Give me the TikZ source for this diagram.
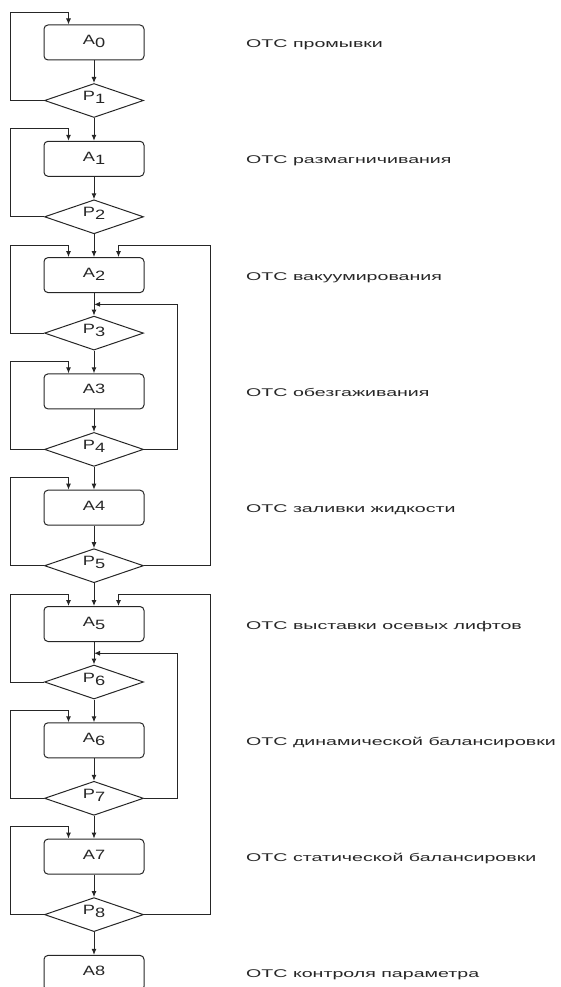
\documentclass[tikz,border=0pt]{standalone}
\usepackage{fontspec}
\setmainfont{Liberation Sans}
\usetikzlibrary{arrows.meta,positioning,shapes.geometric}
\definecolor{cL}{HTML}{262626}
\newcommand{\lowr}[1]{\raisebox{-3pt}{#1}}
\newcommand{\wbox}[1]{\scalebox{1.35}[1]{#1}}
\newcommand{\wtxt}[1]{\scalebox{1.75}[1]{#1}}
\tikzset{
  blk/.style={rounded corners=4pt,draw=cL,line width=1pt,minimum width=100pt,minimum height=35pt,
    inner sep=0pt,text height=9pt,text depth=4pt,text=cL,font=\fontsize{13.5}{14}\selectfont},
  cnd/.style={diamond,draw=cL,line width=1pt,shape aspect=3,minimum width=99pt,minimum height=34pt,
    inner sep=0pt,text height=5pt,text depth=5pt,text=cL,font=\fontsize{13.5}{14}\selectfont},
  lbl/.style={anchor=base west,inner sep=0pt,text=cL,font=\fontsize{11.2}{13}\selectfont},
  flow/.style={-{Latex[length=6pt,width=5pt]},line width=1pt,cL},
}

\begin{document}
\begin{tikzpicture}[x=1pt,y=-1pt]
  \useasboundingbox (0,0) rectangle (561,987);
  % operations and their captions
  \foreach \k/\nm/\txt in {
    0/{A\lowr{0}}/промывки,
    1/{A\lowr{1}}/размагничивания,
    2/{A\lowr{2}}/вакуумирования,
    3/A3/обезгаживания,
    4/A4/заливки жидкости,
    5/{A\lowr{5}}/выставки осевых лифтов,
    6/{A\lowr{6}}/динамической балансировки,
    7/A7/статической балансировки,
    8/A8/контроля параметра}{
    \node[blk] (a\k) at (94,{42.5+116.3*\k}) {\wbox{\nm}};
    \node[lbl] (t\k) at (246,{47.5+116.3*\k}) {\wtxt{ОТС \txt}};
  }
  % checks
  \foreach \k in {1,...,8}{
    \pgfmathtruncatemacro{\j}{\k-1}
    \node[cnd] (p\k) at (94,{100.5+116.3*\j}) {\wbox{P\lowr{\k}}};
    \draw[flow] (a\j.south) -- (p\k.north);
    \draw[flow] (p\k.south) -- (a\k.north);
    \draw[flow] (p\k.west) -- ++(-34,0) |- ([xshift=25pt,yshift=12pt]a\j.north west)
      -- ([xshift=25pt]a\j.north west);
  }
  % return to A2 / A5
  \path (a2.south) -- (p3.north) coordinate[midway] (j3);
  \path (a5.south) -- (p6.north) coordinate[midway] (j6);
  \draw[flow] (p4.east) -- ++(33,0) |- (j3);
  \draw[flow] (p7.east) -- ++(33,0) |- (j6);
  \draw[flow] (p5.east) -- ++(66,0) |- ([xshift=-26pt,yshift=12pt]a2.north east)
    -- ([xshift=-26pt]a2.north east);
  \draw[flow] (p8.east) -- ++(66,0) |- ([xshift=-26pt,yshift=12pt]a5.north east)
    -- ([xshift=-26pt]a5.north east);
\end{tikzpicture}
\end{document}
